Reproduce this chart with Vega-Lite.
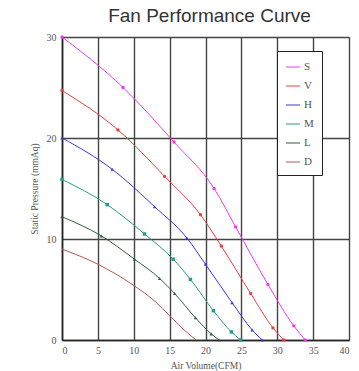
{
  "$schema": "https://vega.github.io/schema/vega-lite/v6.json",
  "width": 287,
  "height": 303,
  "autosize": {"type": "none"},
  "padding": {"left": 62, "top": 37, "right": 10, "bottom": 31},
  "background": "white",
  "title": {"text": "Fan Performance Curve", "font": "Liberation Sans", "fontSize": 19, "fontWeight": "normal", "color": "#333333", "offset": 6, "anchor": "middle", "dx": 4},
  "config": {
    "view": {"stroke": null},
    "axis": {"labelFont": "Liberation Serif", "titleFont": "Liberation Serif", "labelFontSize": 10, "titleFontSize": 9.5, "labelColor": "#555555", "titleColor": "#555555", "titleFontWeight": "normal", "gridColor": "#444444", "gridWidth": 1.4, "gridOpacity": 1, "domainColor": "#222222", "domainWidth": 1.6, "ticks": false}
  },
  "data": {"values": [
    {"s": "S", "x": 0, "y": 30}, {"s": "S", "x": 8.5, "y": 25.0}, {"s": "S", "x": 15.6, "y": 19.6}, {"s": "S", "x": 21.2, "y": 15.0}, {"s": "S", "x": 24.2, "y": 11.2}, {"s": "S", "x": 28.7, "y": 5.5}, {"s": "S", "x": 32.3, "y": 1.4}, {"s": "S", "x": 33.9, "y": 0},
    {"s": "V", "x": 0, "y": 24.7}, {"s": "V", "x": 7.8, "y": 20.8}, {"s": "V", "x": 14.3, "y": 16.2}, {"s": "V", "x": 19.3, "y": 12.4}, {"s": "V", "x": 22.2, "y": 9.3}, {"s": "V", "x": 26.3, "y": 4.6}, {"s": "V", "x": 29.4, "y": 1.2}, {"s": "V", "x": 30.9, "y": 0},
    {"s": "H", "x": 0, "y": 20}, {"s": "H", "x": 7.0, "y": 16.9}, {"s": "H", "x": 12.9, "y": 13.2}, {"s": "H", "x": 17.4, "y": 10.1}, {"s": "H", "x": 20.0, "y": 7.5}, {"s": "H", "x": 23.7, "y": 3.7}, {"s": "H", "x": 26.5, "y": 1.0}, {"s": "H", "x": 27.9, "y": 0},
    {"s": "M", "x": 0, "y": 15.9}, {"s": "M", "x": 6.3, "y": 13.4}, {"s": "M", "x": 11.5, "y": 10.5}, {"s": "M", "x": 15.5, "y": 8.0}, {"s": "M", "x": 17.9, "y": 6.0}, {"s": "M", "x": 21.1, "y": 2.9}, {"s": "M", "x": 23.6, "y": 0.8}, {"s": "M", "x": 24.9, "y": 0},
    {"s": "L", "x": 0, "y": 12.2}, {"s": "L", "x": 5.5, "y": 10.3}, {"s": "L", "x": 10.1, "y": 8.0}, {"s": "L", "x": 13.6, "y": 6.1}, {"s": "L", "x": 15.7, "y": 4.6}, {"s": "L", "x": 18.6, "y": 2.2}, {"s": "L", "x": 20.8, "y": 0.6}, {"s": "L", "x": 21.9, "y": 0},
    {"s": "D", "x": 0, "y": 9.0}, {"s": "D", "x": 5, "y": 7.5}, {"s": "D", "x": 10, "y": 5.4}, {"s": "D", "x": 13, "y": 3.8}, {"s": "D", "x": 15, "y": 2.4}, {"s": "D", "x": 17, "y": 1.0}, {"s": "D", "x": 18.7, "y": 0}
  ]},
  "encoding": {
    "x": {"field": "x", "type": "quantitative", "scale": {"domain": [0, 40], "nice": false}, "axis": {"values": [0, 5, 10, 15, 20, 25, 30, 35, 40], "title": "Air Volume(CFM)", "titlePadding": 5, "labelPadding": 5}},
    "y": {"field": "y", "type": "quantitative", "scale": {"domain": [0, 30], "nice": false}, "axis": {"values": [0, 10, 20, 30], "title": "Static Pressure (mmAq)", "titlePadding": 7, "labelPadding": 6}},
    "color": {"field": "s", "type": "nominal", "scale": {"domain": ["S", "V", "H", "M", "L", "D"], "range": ["#e83ee8", "#e04444", "#3a3ad8", "#2a9a88", "#2e5e3a", "#b05858"]},
      "legend": {"orient": "none", "legendX": 215, "legendY": 14, "title": null, "symbolType": "stroke", "symbolSize": 200, "symbolStrokeWidth": 1, "labelFont": "Liberation Serif", "labelFontSize": 11, "labelColor": "#555555", "rowPadding": 6, "padding": 8, "strokeColor": "#222222", "fillColor": "white", "labelOffset": 3}}
  },
  "layer": [
    {"mark": {"type": "line", "interpolate": "monotone", "strokeWidth": 1}},
    {"transform": [{"filter": "datum.s !== 'D'"}], "mark": {"type": "point", "filled": true, "size": 12, "opacity": 1},
      "encoding": {"shape": {"field": "s", "type": "nominal", "scale": {"domain": ["S", "V", "H", "M", "L"], "range": ["circle", "circle", "triangle-up", "square", "triangle-up"]}, "legend": null}}}
  ]
}
